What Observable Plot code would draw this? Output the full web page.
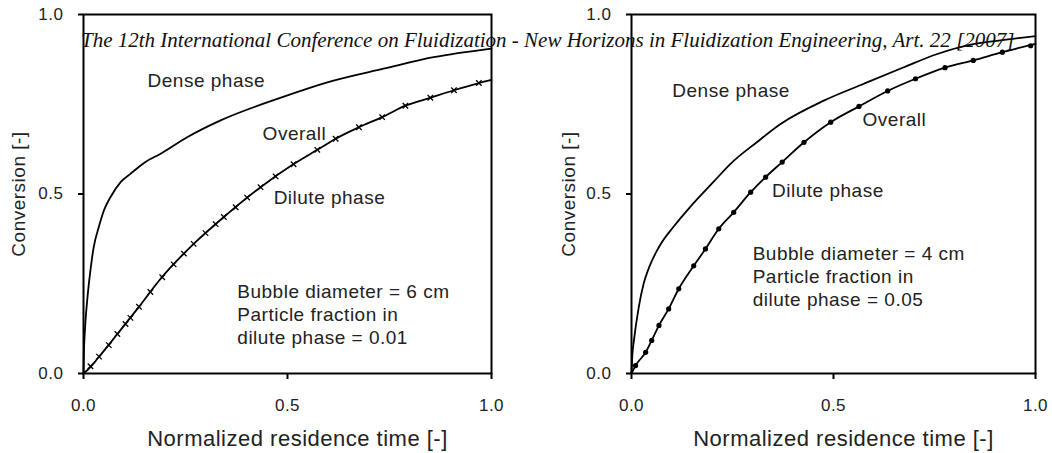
<!DOCTYPE html>
<html><head><meta charset="utf-8">
<script src="https://cdn.jsdelivr.net/npm/d3@7"></script>
<script src="https://cdn.jsdelivr.net/npm/@observablehq/plot@0.6"></script>
<style>
body{margin:0;background:#fff;}
#wrap{position:relative;width:1052px;height:453px;overflow:hidden;background:#fff;}
#row{display:flex;}
#row svg{display:block;}
#row svg text{letter-spacing:0.5px;}
#row g[aria-label="y-axis label"] text{font-size:19px;}
#header{position:absolute;left:81px;top:30px;font:italic 21px "Liberation Serif","DejaVu Serif",serif;line-height:21px;white-space:nowrap;color:#111;pointer-events:none;}
</style></head><body>
<div id="wrap"><div id="row"></div><div id="header">The 12th International Conference on Fluidization - New Horizons in Fluidization Engineering, Art. 22 [2007]</div></div>
<script>
const xTicks = [0, 0.5, 1];
const yTicks = [0, 0.5, 1];
const xLabel = "Normalized residence time [-]";
const yLabel = "Conversion [-]";

// Left panel (bubble diameter 6 cm, fraction 0.01)
const leftDenseX = [0, 0.001, 0.003, 0.005, 0.01, 0.017, 0.025, 0.038, 0.05, 0.066, 0.091, 0.115, 0.15, 0.189, 0.254, 0.336, 0.475, 0.613, 0.735, 0.858, 1.0];
const leftDenseY = [0, 0.06, 0.11, 0.148, 0.215, 0.287, 0.352, 0.41, 0.454, 0.491, 0.533, 0.556, 0.588, 0.612, 0.658, 0.705, 0.765, 0.816, 0.849, 0.881, 0.905];
const leftDiluteX = [0, 0.017, 0.034, 0.083, 0.132, 0.189, 0.27, 0.344, 0.434, 0.516, 0.573, 0.618, 0.675, 0.732, 0.789, 0.85, 0.908, 0.969, 1.0];
const leftDiluteY = [0, 0.018, 0.041, 0.11, 0.18, 0.264, 0.361, 0.436, 0.519, 0.584, 0.623, 0.654, 0.686, 0.714, 0.746, 0.768, 0.789, 0.809, 0.818];
const leftOverallX = [0.017, 0.038, 0.062, 0.083, 0.103, 0.115, 0.136, 0.164, 0.193, 0.221, 0.246, 0.27, 0.299, 0.324, 0.344, 0.373, 0.401, 0.434, 0.471, 0.515, 0.573, 0.618, 0.675, 0.732, 0.789, 0.85, 0.908, 0.969];
const leftOverallY = [0.02, 0.047, 0.079, 0.11, 0.138, 0.155, 0.186, 0.227, 0.268, 0.304, 0.334, 0.361, 0.391, 0.416, 0.436, 0.463, 0.49, 0.519, 0.549, 0.583, 0.623, 0.654, 0.686, 0.714, 0.746, 0.768, 0.789, 0.809];
const leftLabelText = ["Dense phase", "Overall", "Dilute phase", "Bubble diameter = 6 cm", "Particle fraction in", "dilute phase = 0.01"];
const leftLabelX = [0.157, 0.439, 0.466, 0.377, 0.377, 0.377];
const leftLabelY = [0.815, 0.666, 0.49, 0.228, 0.164, 0.1];

// Right panel (bubble diameter 4 cm, fraction 0.05)
const rightDenseX = [0, 0.002, 0.006, 0.018, 0.03, 0.04, 0.051, 0.062, 0.072, 0.105, 0.146, 0.204, 0.245, 0.311, 0.369, 0.476, 0.575, 0.674, 0.757, 0.831, 0.913, 1.0];
const rightDenseY = [0, 0.05, 0.092, 0.185, 0.25, 0.285, 0.315, 0.34, 0.36, 0.41, 0.465, 0.535, 0.584, 0.645, 0.695, 0.76, 0.807, 0.853, 0.89, 0.914, 0.928, 0.94];
const rightDiluteX = [0, 0.01, 0.035, 0.05, 0.068, 0.092, 0.117, 0.154, 0.183, 0.216, 0.253, 0.295, 0.332, 0.373, 0.427, 0.493, 0.563, 0.634, 0.703, 0.776, 0.846, 0.918, 1.0];
const rightDiluteY = [0, 0.022, 0.059, 0.092, 0.134, 0.18, 0.236, 0.3, 0.347, 0.403, 0.449, 0.505, 0.547, 0.589, 0.644, 0.7, 0.744, 0.787, 0.821, 0.852, 0.872, 0.895, 0.918];
const rightOverallX = [0.01, 0.035, 0.05, 0.068, 0.092, 0.117, 0.154, 0.183, 0.216, 0.253, 0.295, 0.332, 0.373, 0.427, 0.493, 0.563, 0.634, 0.703, 0.776, 0.846, 0.918, 0.988];
const rightOverallY = [0.022, 0.059, 0.092, 0.134, 0.18, 0.236, 0.3, 0.347, 0.403, 0.449, 0.505, 0.547, 0.589, 0.644, 0.7, 0.744, 0.787, 0.821, 0.852, 0.872, 0.895, 0.913];
const rightLabelText = ["Dense phase", "Overall", "Dilute phase", "Bubble diameter = 4 cm", "Particle fraction in", "dilute phase = 0.05"];
const rightLabelX = [0.101, 0.572, 0.348, 0.3, 0.3, 0.3];
const rightLabelY = [0.786, 0.705, 0.51, 0.334, 0.27, 0.206];

const zip = (xs, ys) => xs.map((x, i) => ({x, y: ys[i]}));

function panel(p) {
  const labels = p.labelText.map((t, i) => ({t, x: p.labelX[i], y: p.labelY[i]}));
  return Plot.plot({
    width: 526, height: 453,
    marginLeft: p.ml, marginRight: p.mr, marginTop: 14, marginBottom: 80,
    x: {domain: [0, 1]}, y: {domain: [0, 1]},
    style: {fontFamily: "'Liberation Sans', Arial, sans-serif", color: "#222", background: "white", overflow: "visible"},
    marks: [
      Plot.axisX({ticks: xTicks, tickFormat: d3.format(".1f"), tickSize: 6, tickPadding: 19, fontSize: 17, label: null, strokeWidth: 2, stroke: "#000"}),
      Plot.axisY({ticks: yTicks, tickFormat: d3.format(".1f"), tickSize: 5, tickPadding: 15, fontSize: 17, label: yLabel, labelAnchor: "center", labelOffset: p.ylabelOffset, labelArrow: "none", strokeWidth: 2, stroke: "#000"}),
      Plot.text([xLabel], {frameAnchor: "bottom", dx: 10, dy: 72, fontSize: 22, fill: "#222"}),
      Plot.line(zip(p.denseX, p.denseY), {x: "x", y: "y", stroke: "#000", strokeWidth: 1.8, curve: "monotone-x"}),
      Plot.line(zip(p.diluteX, p.diluteY), {x: "x", y: "y", stroke: "#000", strokeWidth: 1.8, curve: "monotone-x"}),
      p.dots
        ? Plot.dot(zip(p.overallX, p.overallY), {x: "x", y: "y", r: 2.6, fill: "#000", stroke: "none"})
        : Plot.dot(zip(p.overallX, p.overallY), {x: "x", y: "y", r: 2.6, symbol: "times", stroke: "#000", strokeWidth: 1.3}),
      Plot.text(labels, {x: "x", y: "y", text: "t", textAnchor: "start", fontSize: 19, fill: "#222"}),
      Plot.frame({stroke: "#000", strokeWidth: 2})
    ]
  });
}

const row = document.getElementById("row");
row.append(panel({ml: 83, mr: 35, ylabelOffset: 72, denseX: leftDenseX, denseY: leftDenseY, diluteX: leftDiluteX, diluteY: leftDiluteY, overallX: leftOverallX, overallY: leftOverallY, labelText: leftLabelText, labelX: leftLabelX, labelY: leftLabelY, dots: false}));
row.append(panel({ml: 105, mr: 17, ylabelOffset: 70, denseX: rightDenseX, denseY: rightDenseY, diluteX: rightDiluteX, diluteY: rightDiluteY, overallX: rightOverallX, overallY: rightOverallY, labelText: rightLabelText, labelX: rightLabelX, labelY: rightLabelY, dots: true}));
</script>
</body></html>
